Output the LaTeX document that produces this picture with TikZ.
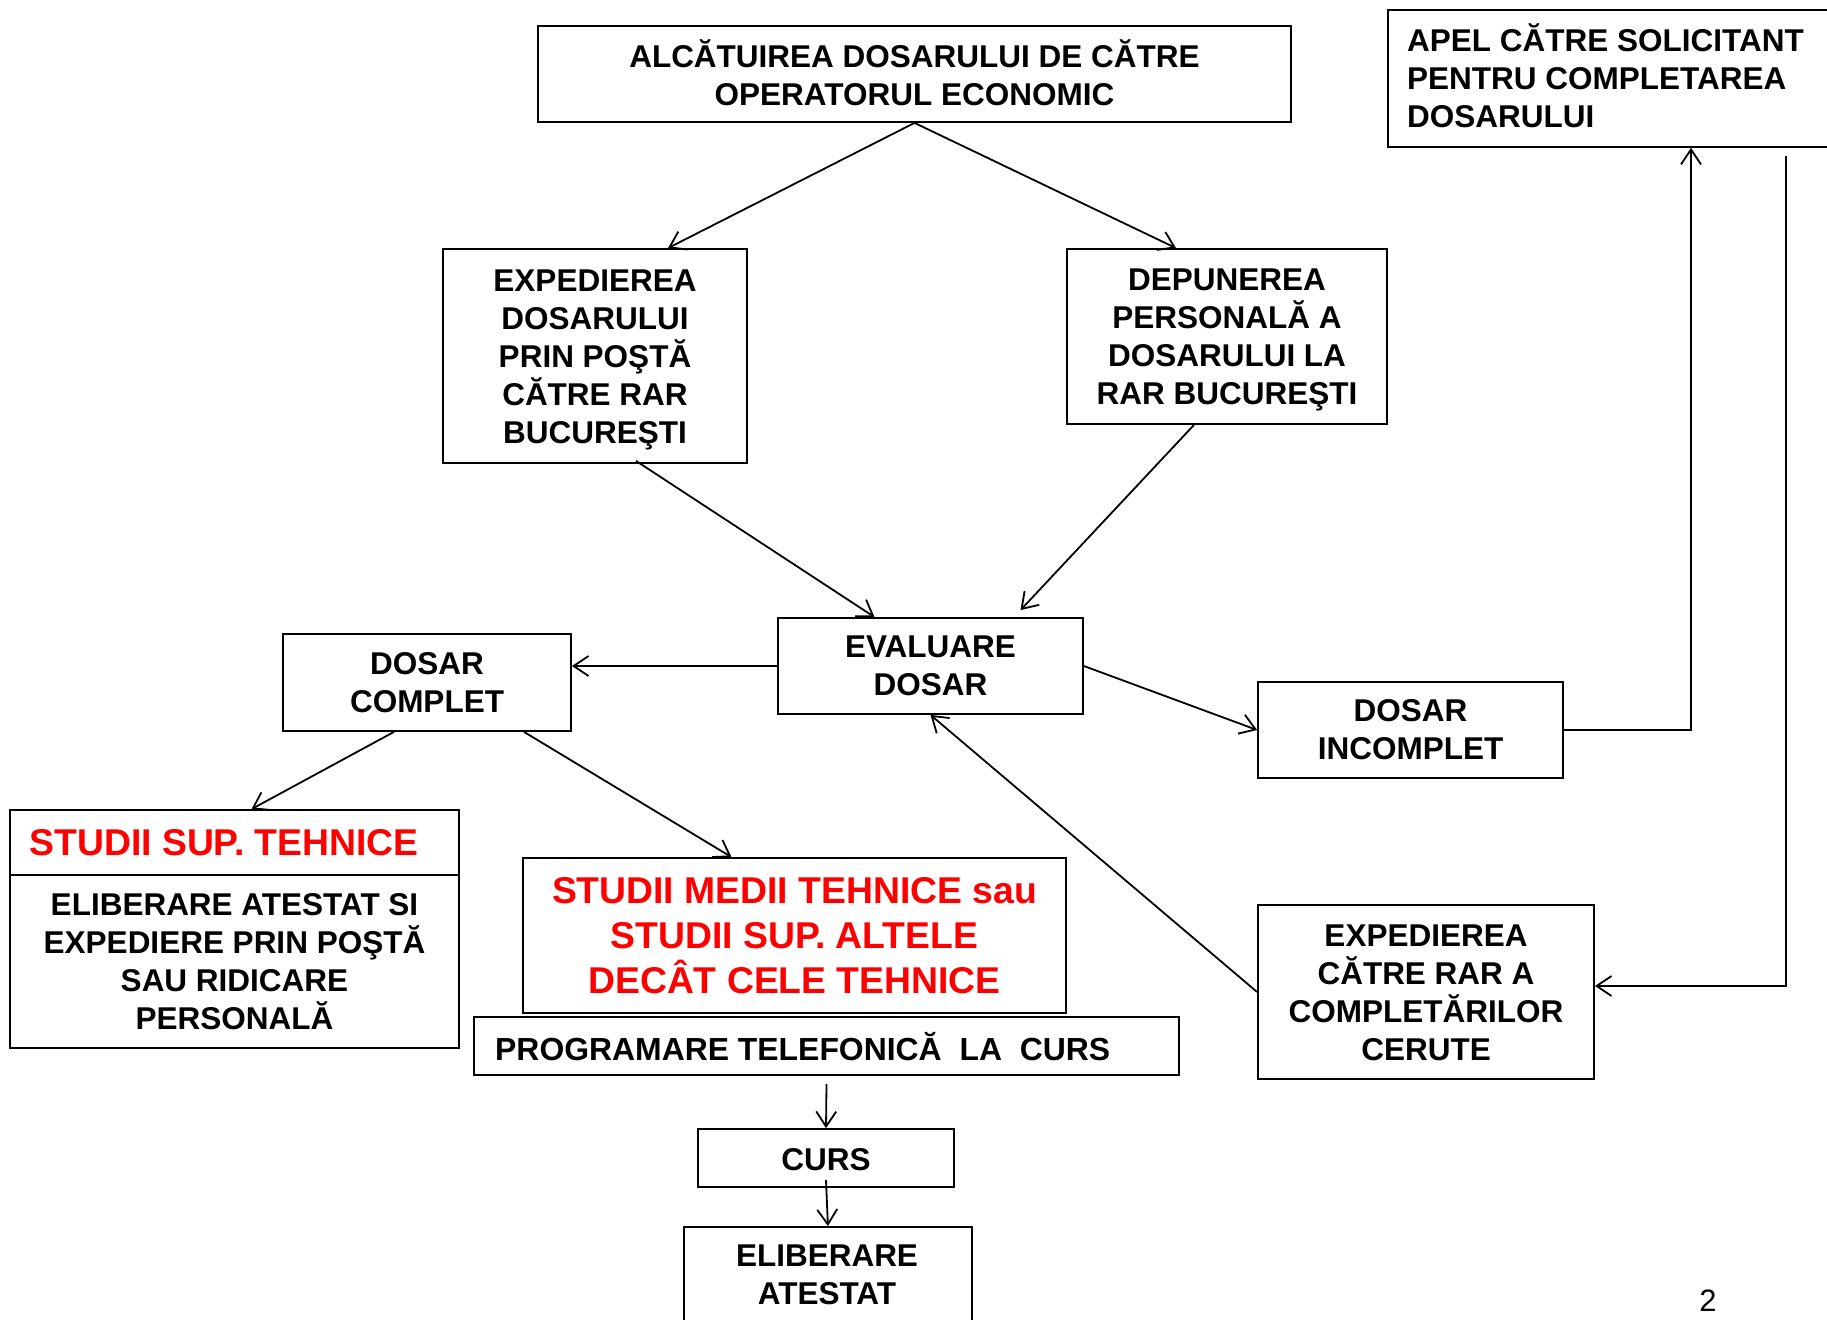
\documentclass[tikz,border=0pt]{standalone}
\usepackage{fontspec}
\setmainfont{Liberation Sans}
\usetikzlibrary{arrows.meta,calc}
\newcommand\boxfont{\fontsize{31.5pt}{38pt}\selectfont\bfseries}
\newcommand\redfont{\fontsize{37.3pt}{45pt}\selectfont\bfseries}
\newcommand\progfont{\fontsize{31.9pt}{38pt}\selectfont\bfseries}
\begin{document}
\begin{tikzpicture}[x=1pt,y=-1pt,
  box/.style={draw,line width=1.8pt,inner sep=0pt,align=center,font=\boxfont},
  txt/.style={inner sep=0pt,align=center,font=\boxfont},
  conn/.style={line width=1.8pt,-{Straight Barb[length=15pt,width=20pt]}},
  plain/.style={line width=1.8pt}]
\useasboundingbox (0,0) rectangle (1827,1319);
\fill[white] (0,0) rectangle (1827,1319);
\clip (0,0) rectangle (1827,1319);

\node[box,minimum width=753pt,minimum height=96pt] (top) at (914.5,74) {};
\node[txt] (toptxt) at ([yshift=1pt]top.center) {ALCĂTUIREA DOSARULUI DE CĂTRE\\OPERATORUL ECONOMIC};
\node[box,minimum width=513pt,minimum height=137pt,anchor=north west] (apel) at (1387,9) {};
\node[txt,anchor=west,align=left] (apeltxt) at (1407,76) {APEL CĂTRE SOLICITANT\\PENTRU COMPLETAREA\\DOSARULUI};
\node[box,minimum width=304pt,minimum height=214pt] (exp) at (595,356) {};
\node[txt] (exptxt) at ([yshift=-3.5pt]exp.center) {EXPEDIEREA\\DOSARULUI\\PRIN POŞTĂ\\CĂTRE RAR\\BUCUREŞTI};
\node[box,minimum width=320pt,minimum height=175pt] (dep) at (1227,336.5) {};
\node[txt] (deptxt) at ([yshift=-3.5pt]dep.center) {DEPUNEREA\\PERSONALĂ A\\DOSARULUI LA\\RAR BUCUREŞTI};
\node[box,minimum width=305pt,minimum height=96pt] (eval) at (930.5,666) {EVALUARE\\DOSAR};
\node[box,minimum width=288pt,minimum height=97pt] (dc) at (427,682.5) {DOSAR\\COMPLET};
\node[box,minimum width=305pt,minimum height=96pt] (inc) at (1410.5,730) {DOSAR\\INCOMPLET};

\node[box,minimum width=449pt,minimum height=238pt] (sst) at (234.5,929) {};
\coordinate (div) at (0,875);
\draw[plain] (sst.west |- div) -- (sst.east |- div);
\node[txt,font=\redfont,text=red] (ssth) at (224,842.5) {STUDII SUP. TEHNICE};
\node[txt] (sstb) at (234.5,961.5) {ELIBERARE ATESTAT SI\\EXPEDIERE PRIN POŞTĂ\\SAU RIDICARE\\PERSONALĂ};

\node[box,minimum width=543pt,minimum height=155pt,font=\redfont,text=red] (sm) at (794.5,935.5) {STUDII MEDII TEHNICE sau\\STUDII SUP. ALTELE\\DECÂT CELE TEHNICE};
\node[box,minimum width=705pt,minimum height=58pt] (prog) at (826.5,1046) {};
\node[txt,anchor=west,font=\progfont] (progtxt) at (495,1047) {PROGRAMARE TELEFONICĂ\ \ LA\ \ CURS};
\node[box,minimum width=256pt,minimum height=58pt] (curs) at (826,1158) {};
\node[txt] (curstxt) at ([yshift=-2pt]curs.center) {CURS};
\node[box,minimum width=288pt,minimum height=150pt,anchor=north west] (elib) at (683,1226) {};
\node[txt] (elibtxt) at (827,1275) {ELIBERARE\\ATESTAT};
\node[box,minimum width=336pt,minimum height=174pt] (exp2) at (1426,992) {};
\node[txt] (exp2txt) at ([yshift=-1pt]exp2.center) {EXPEDIEREA\\CĂTRE RAR A\\COMPLETĂRILOR\\CERUTE};
\node[inner sep=0pt,anchor=base,font=\fontsize{31pt}{38pt}\selectfont] (pg) at (1708,1311) {2};

\draw[conn] (top.south) -- ([xshift=73pt]exp.north);
\draw[conn] (top.south) -- ([xshift=-51pt]dep.north);
\draw[conn] ([xshift=41pt,yshift=3pt]exp.south) -- ([xshift=-56pt]eval.north);
\draw[conn] ([xshift=-33pt]dep.south) -- ([xshift=90pt,yshift=7pt]eval.north);
\draw[conn] (eval.west) -- (eval.west -| dc.east);
\draw[conn] (eval.east) -- (inc.west);
\draw[conn] (inc.east) -| ([xshift=304pt]apel.south west);
\draw[conn] ([xshift=399pt,yshift=-8pt]apel.south west) |- ([yshift=6pt]exp2.east);
\draw[conn] (exp2.west) -- (eval.south);
\draw[conn] ([xshift=-33pt]dc.south) -- ([xshift=17pt]sst.north);
\draw[conn] ([xshift=97pt]dc.south) -- ([xshift=-63pt]sm.north);
\draw[conn] ([yshift=-8pt]prog.south) -- (curs.north);
\draw[conn] ([yshift=8pt]curs.south) -- (elib.north);
\end{tikzpicture}
\end{document}
